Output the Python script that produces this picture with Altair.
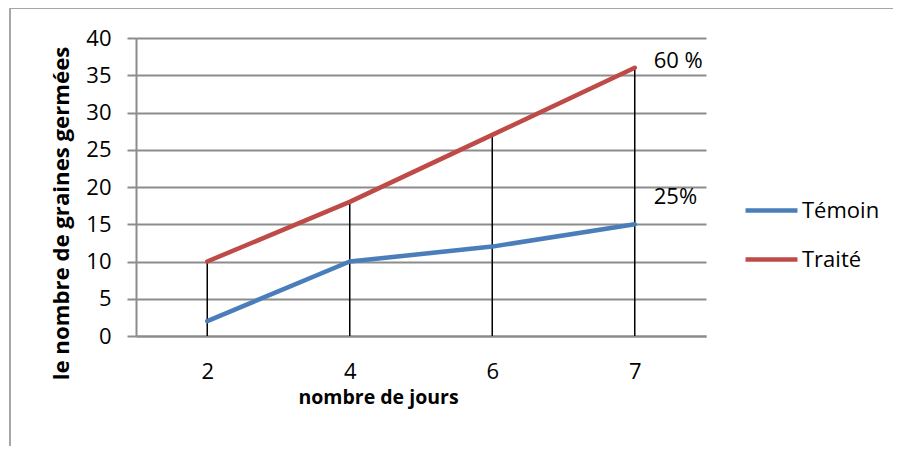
import altair as alt
import pandas as pd

days = ["2", "4", "6", "7"]
temoin = [2, 10, 12, 15]
traite = [10, 18, 27, 36]
series_names = ["Témoin", "Traité"]
series_colors = ["#4A7EBB", "#BE4B48"]
notes = ["25%", "60 %"]
y_ticks = [0, 5, 10, 15, 20, 25, 30, 35, 40]

FONT = "Open Sans"

long_df = pd.DataFrame(
    {
        "day": days * 2,
        "value": temoin + traite,
        "series": [series_names[0]] * len(days) + [series_names[1]] * len(days),
    }
)
rule_df = pd.DataFrame({"day": days, "top": traite})
note_df = pd.DataFrame(
    {"day": [days[-1], days[-1]], "value": [temoin[-1], traite[-1]], "note": notes}
)

x_enc = alt.X(
    "day:N",
    sort=days,
    scale=alt.Scale(type="point", padding=0.5),
    axis=alt.Axis(
        title="nombre de jours",
        labelAngle=0,
        labelFontSize=22,
        labelFont=FONT,
        labelColor="black",
        labelPadding=25,
        ticks=False,
        domainColor="#8c8c8c",
        domainWidth=2,
        grid=False,
        titleFont=FONT,
        titleFontSize=19.5,
        titleFontWeight="bold",
        titleColor="black",
        titleX=242,
        titleY=67,
        titleBaseline="alphabetic",
        titleAlign="center",
    ),
)
y_scale = alt.Scale(domain=[0, 40], nice=False, zero=True)
y_axis = alt.Axis(
    title="le nombre de graines germées",
    values=y_ticks,
    labelFontSize=22,
    labelFont=FONT,
    labelColor="black",
    labelPadding=16,
    tickSize=9,
    tickColor="#8c8c8c",
    tickWidth=2,
    domainColor="#8c8c8c",
    domainWidth=2,
    gridColor="#8c8c8c",
    gridWidth=2,
    titleFont=FONT,
    titleFontSize=22.2,
    titleFontWeight="bold",
    titleColor="black",
    titleAngle=-90,
    titleX=-68,
    titleY=175,
    titleBaseline="alphabetic",
    titleAlign="center",
)

frame = (
    alt.Chart(pd.DataFrame({"a": [0]}))
    .mark_rect(fill=None, stroke="#a6a6a6", strokeWidth=2)
    .encode(x=alt.value(-126), x2=alt.value(900), y=alt.value(-30), y2=alt.value(460))
)

rules = (
    alt.Chart(rule_df)
    .mark_rule(color="black", strokeWidth=1.5)
    .encode(x=x_enc, y=alt.Y("top:Q", scale=y_scale, axis=y_axis), y2=alt.datum(0))
)

lines = (
    alt.Chart(long_df)
    .mark_line(strokeWidth=4.5, strokeCap="round", strokeJoin="round")
    .encode(
        x=x_enc,
        y=alt.Y("value:Q", scale=y_scale, axis=y_axis),
        color=alt.Color(
            "series:N",
            scale=alt.Scale(domain=series_names, range=series_colors),
            legend=alt.Legend(
                title=None,
                orient="none",
                legendX=607,
                legendY=144,
                symbolType="stroke",
                symbolSize=2700,
                symbolStrokeWidth=4.5,
                labelFontSize=22,
                labelFont=FONT,
                labelColor="black",
                labelOffset=2,
                rowPadding=9,
                padding=0,
            ),
        ),
    )
)


def note_layer(idx, dy):
    return (
        alt.Chart(note_df.iloc[[idx]])
        .mark_text(align="left", baseline="middle", dx=19, dy=dy, fontSize=22, font=FONT, color="black")
        .encode(
            x=x_enc,
            y=alt.Y("value:Q", scale=y_scale, axis=y_axis),
            text="note:N",
        )
    )


chart = (
    alt.layer(frame, rules, lines, note_layer(0, -27), note_layer(1, -7))
    .properties(
        width=570,
        height=298,
        autosize=alt.AutoSizeParams(type="none"),
        padding={"left": 128, "top": 30, "right": 187, "bottom": 110},
        background="white",
    )
    .configure_view(stroke=None)
)

chart.save("out.html", embed_options={"renderer": "svg", "actions": False})
